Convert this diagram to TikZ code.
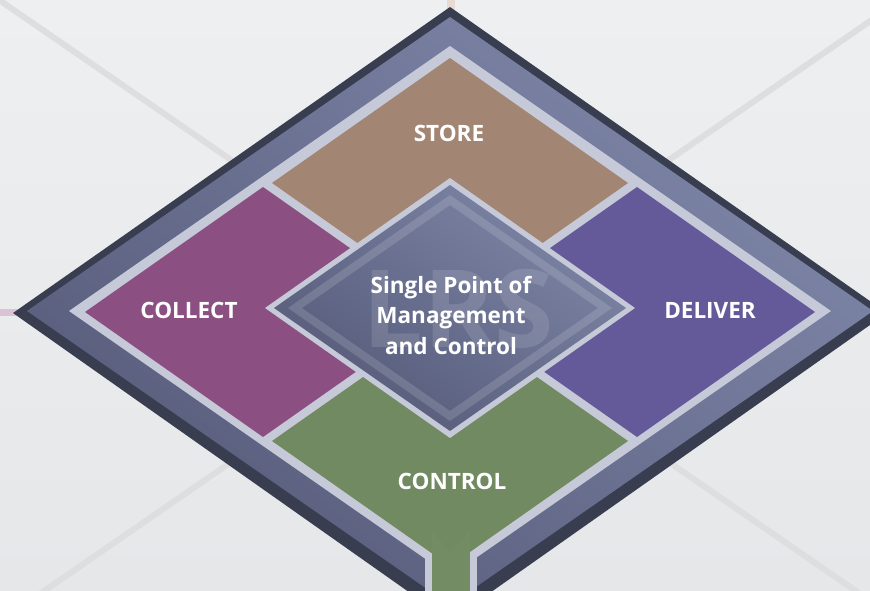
\documentclass[tikz,border=0pt]{standalone}
\usepackage{fontspec}
\setmainfont{Open Sans}
\definecolor{bgtop}{HTML}{EEEFF1}
\definecolor{bgbot}{HTML}{E6E7E9}
\definecolor{xline}{HTML}{DEDEDF}
\definecolor{frame}{HTML}{383E50}
\definecolor{lavlight}{HTML}{7E86A8}
\definecolor{lavdark}{HTML}{585C7B}
\definecolor{gap}{HTML}{C6C9D7}
\definecolor{storec}{HTML}{A28673}
\definecolor{collectc}{HTML}{8C4F82}
\definecolor{deliverc}{HTML}{655A99}
\definecolor{controlc}{HTML}{728A61}
\definecolor{stemc}{HTML}{738C63}
\definecolor{ctrlight}{HTML}{7D85A6}
\definecolor{ctrdark}{HTML}{555A78}
\definecolor{stubtan}{HTML}{E8DAD0}
\definecolor{stubpink}{HTML}{DCC2D5}
\newcommand\mydiamond[4]{({#1},{#2-#4}) -- ({#1+#3},{#2}) -- ({#1},{#2+#4}) -- ({#1-#3},{#2}) -- cycle}
\tikzset{
  xln/.style={draw=xline, line width=6pt},
  lbl/.style={text=white, font=\bfseries\fontsize{22.5}{30.5}\selectfont, inner sep=0pt, anchor=base},
}
\begin{document}
\begin{tikzpicture}[x=1pt,y=-1pt]
\useasboundingbox (0,0) rectangle (870,591);
\begin{scope}
\clip (0,0) rectangle (870,591);
\shade[top color=bgtop,bottom color=bgbot] (0,0) rectangle (870,591);
% background X lines
\coordinate (ctr) at (450,311);
\coordinate (xa) at (-250,-172);
\coordinate (xb) at (1150,-172);
\coordinate (xc) at (-250,794);
\coordinate (xd) at (1150,794);
\draw[xln] (xa) -- (ctr) -- (xd);
\draw[xln] (xb) -- (ctr) -- (xc);
% stubs
\fill[stubtan] (447,-1) rectangle (455,14);
\fill[stubpink] (-1,308.5) rectangle (20,315.5);
% outer frame
\fill[frame] (450,7) -- (887,313) -- (450,621) -- (13,313) -- cycle;
\shade[top color=lavlight,bottom color=lavdark,shading angle=-40] \mydiamond{450}{311}{423}{294};
\fill[gap] \mydiamond{450}{311}{381}{265};
% stem border
\fill[gap] (425,520) rectangle (477,595);
% quadrants
\fill[storec]    \mydiamond{450}{183}{178}{125};
\fill[collectc]  \mydiamond{263}{312}{178}{125};
\fill[deliverc]  \mydiamond{637}{312}{178}{125};
\fill[controlc]  \mydiamond{450}{441}{178}{125};
\fill[stemc] (432,530) rectangle (470,595);
\fill[controlc] (432,530) -- (450,552) -- (470,530) -- cycle;
% center diamond
\fill[gap] \mydiamond{450}{308}{185}{130};
\shade[top color=ctrlight,bottom color=ctrdark,shading angle=-35] \mydiamond{450}{308}{176}{123};
\fill[white,opacity=0.14,even odd rule] \mydiamond{450}{308}{162}{113} \mydiamond{450}{308}{148}{103};
\end{scope}
\node[text=white, opacity=0.12, font=\bfseries\fontsize{108}{108}\selectfont, inner sep=0pt, anchor=base] (lrs) at (458,347) {LRS};
\node[lbl] (store) at (449,142) {STORE};
\node[lbl] (collect) at (189,318) {COLLECT};
\node[lbl] (deliver) at (710,318) {DELIVER};
\node[lbl] (control) at (452,489) {CONTROL};
\node[text=white, font=\bfseries\fontsize{22.5}{30.5}\selectfont, inner sep=0pt, align=center, anchor=center] (spm) at (451,315) {Single Point of\\Management\\and Control};
\end{tikzpicture}
\end{document}
